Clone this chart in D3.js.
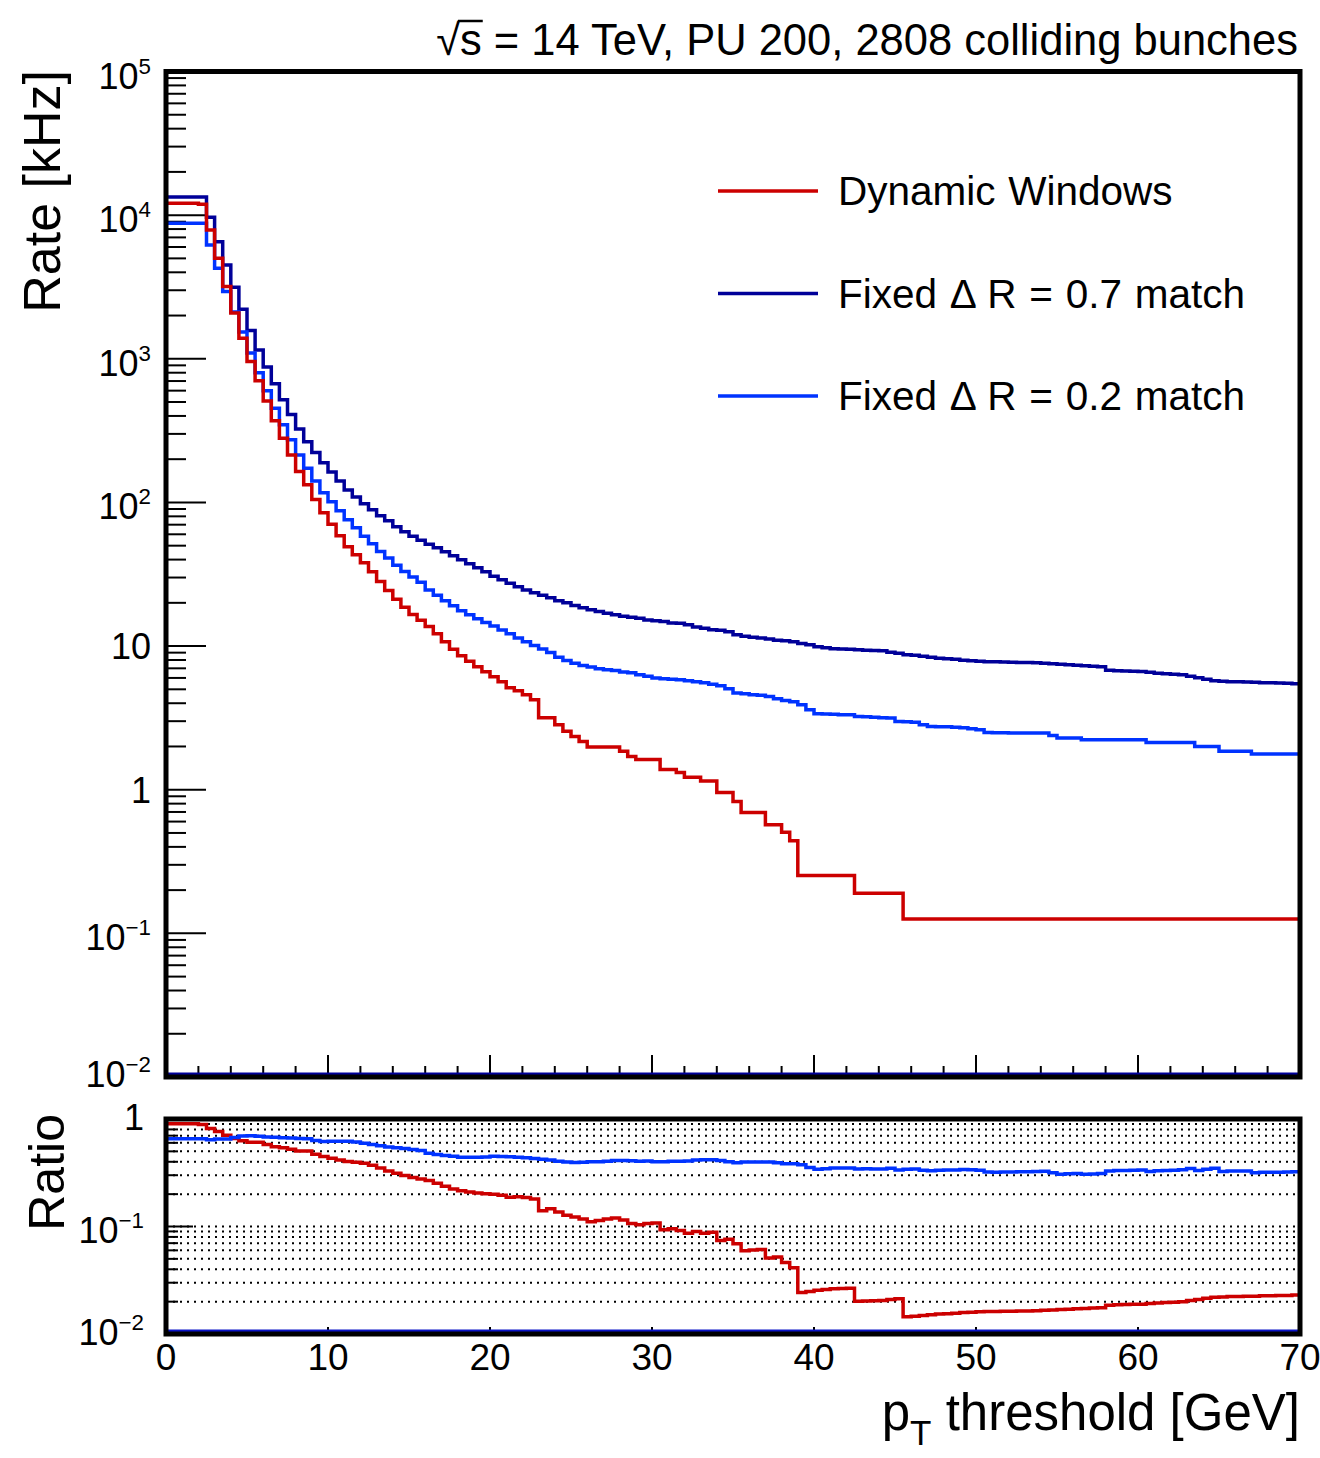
<!DOCTYPE html>
<html>
<head>
<meta charset="utf-8">
<script src="https://cdn.jsdelivr.net/npm/d3@7"></script>
<style>
  body { margin: 0; background: #fff; }
  svg { display: block; }
  text { font-family: "Liberation Sans", Arial, Helvetica, sans-serif; fill: #000; }
</style>
</head>
<body>
<svg id="chart" width="1320" height="1458"></svg>
<script>
// pT threshold bin edges [GeV], 0.5 GeV bins from 0 to 70
var ptEdges = d3.range(0, 70.001, 0.5);

// rate [kHz] per bin
var rateDynamic = [
  12100, 12100, 12100, 12100, 11900,
  7890, 5010, 3180, 2080, 1390,
  956, 702, 509, 370, 280,
  214, 164, 133, 105, 84.6,
  70.4, 58.6, 49.1, 43.2, 38.0,
  32.9, 28.2, 24.4, 21.2, 18.6,
  16.6, 15.1, 13.7, 12.2, 10.7,
  9.50, 8.56, 7.84, 7.18, 6.62,
  6.11, 5.64, 5.13, 4.89, 4.58,
  4.23, 3.17, 3.17, 2.83, 2.55,
  2.35, 2.17, 1.98, 1.98, 1.98,
  1.98, 1.85, 1.70, 1.62, 1.62,
  1.62, 1.38, 1.38, 1.32, 1.22,
  1.22, 1.15, 1.15, 0.958, 0.958,
  0.829, 0.695, 0.695, 0.695, 0.571,
  0.571, 0.505, 0.442, 0.253, 0.253,
  0.253, 0.253, 0.253, 0.253, 0.253,
  0.190, 0.190, 0.190, 0.190, 0.190,
  0.190, 0.126, 0.126, 0.126, 0.126,
  0.126, 0.126, 0.126, 0.126, 0.126,
  0.126, 0.126, 0.126, 0.126, 0.126,
  0.126, 0.126, 0.126, 0.126, 0.126,
  0.126, 0.126, 0.126, 0.126, 0.126,
  0.126, 0.126, 0.126, 0.126, 0.126,
  0.126, 0.126, 0.126, 0.126, 0.126,
  0.126, 0.126, 0.126, 0.126, 0.126,
  0.126, 0.126, 0.126, 0.126, 0.126,
  0.126, 0.126, 0.126, 0.126, 0.126
];

var rateFixed07 = [
  13400, 13400, 13400, 13400, 13400,
  9670, 6540, 4500, 3150, 2215,
  1571, 1153, 878, 669, 518,
  410, 325, 264, 223, 189,
  163, 141, 122, 109, 97.8,
  88.8, 80.7, 74.5, 67.6, 62.4,
  58.1, 54.5, 51.1, 48.3, 45.3,
  42.5, 39.9, 37.4, 35.1, 32.9,
  30.6, 28.9, 27.4, 25.9, 24.6,
  23.5, 22.6, 21.7, 20.7, 20.0,
  19.2, 18.5, 17.9, 17.4, 16.9,
  16.5, 16.1, 15.9, 15.6, 15.2,
  15.0, 14.8, 14.5, 14.4, 14.1,
  13.6, 13.3, 13.0, 12.9, 12.6,
  12.0, 11.7, 11.5, 11.4, 11.2,
  11.0, 10.9, 10.7, 10.4, 10.2,
  9.89, 9.73, 9.58, 9.53, 9.50,
  9.43, 9.35, 9.32, 9.27, 9.06,
  8.91, 8.70, 8.63, 8.49, 8.36,
  8.23, 8.16, 8.09, 7.96, 7.90,
  7.84, 7.78, 7.78, 7.74, 7.72,
  7.69, 7.68, 7.65, 7.59, 7.53,
  7.47, 7.41, 7.35, 7.29, 7.23,
  7.18, 6.79, 6.73, 6.71, 6.68,
  6.66, 6.57, 6.47, 6.42, 6.37,
  6.31, 6.16, 6.02, 5.87, 5.73,
  5.69, 5.64, 5.64, 5.62, 5.60,
  5.55, 5.55, 5.53, 5.51, 5.47
];

var rateFixed02 = [
  8790, 8790, 8790, 8790, 8790,
  6200, 4270, 2935, 2120, 1539,
  1099, 798, 598, 452, 347,
  273, 214, 173, 141, 117,
  101, 87.4, 75.7, 66.6, 58.2,
  51.5, 45.6, 41.0, 36.5, 33.1,
  30.2, 27.8, 24.6, 22.6, 20.7,
  19.1, 17.6, 16.5, 15.5, 14.6,
  13.8, 12.96, 12.2, 11.4, 10.7,
  10.1, 9.53, 9.01, 8.37, 7.95,
  7.58, 7.31, 7.15, 6.96, 6.85,
  6.77, 6.61, 6.51, 6.32, 6.17,
  6.00, 5.92, 5.87, 5.83, 5.73,
  5.64, 5.55, 5.42, 5.29, 5.05,
  4.71, 4.66, 4.58, 4.55, 4.46,
  4.30, 4.18, 4.10, 3.90, 3.60,
  3.38, 3.36, 3.35, 3.33, 3.33,
  3.24, 3.22, 3.20, 3.17, 3.16,
  2.99, 2.97, 2.95, 2.83, 2.76,
  2.74, 2.74, 2.72, 2.70, 2.66,
  2.62, 2.50, 2.49, 2.49, 2.48,
  2.48, 2.48, 2.48, 2.48, 2.38,
  2.29, 2.29, 2.29, 2.23, 2.23,
  2.23, 2.23, 2.23, 2.23, 2.23,
  2.23, 2.13, 2.13, 2.13, 2.13,
  2.13, 2.13, 2.00, 2.00, 2.00,
  1.85, 1.85, 1.85, 1.85, 1.77,
  1.77, 1.77, 1.77, 1.77, 1.77
];

var legendNames = ["Dynamic Windows", "Fixed \u0394 R = 0.7 match", "Fixed \u0394 R = 0.2 match"];
var xTickValues = [0, 10, 20, 30, 40, 50, 60, 70];
var mainExps = [-2, -1, 0, 1, 2, 3, 4, 5];
var ratioExps = [-2, -1, 0];

var colRed = "#cc0000", colNavy = "#000099", colBlue = "#0033ff";

// ratio to the fixed dR = 0.7 rate
var ratioDynamic = rateDynamic.map(function (v, i) { return v / rateFixed07[i]; });
var ratioFixed02 = rateFixed02.map(function (v, i) { return v / rateFixed07[i]; });

var svg = d3.select("#chart");
svg.append("rect").attr("width", 1320).attr("height", 1458).attr("fill", "#fff");

var x = d3.scaleLinear().domain([0, 70]).range([166, 1300]);
var y = d3.scaleLog().domain([1e-2, 1e5]).range([1077, 71.5]);
var yr = d3.scaleLog().domain([1e-2, 1]).range([1334, 1119]);

var defs = svg.append("defs");
defs.append("clipPath").attr("id", "clipMain").append("rect")
  .attr("x", x(0)).attr("y", y(1e5)).attr("width", x(70) - x(0)).attr("height", y(1e-2) - y(1e5));
defs.append("clipPath").attr("id", "clipRatio").append("rect")
  .attr("x", x(0)).attr("y", yr(1)).attr("width", x(70) - x(0)).attr("height", yr(1e-2) - yr(1));

function stepPath(vals, ys, yBottom) {
  var p = d3.path();
  p.moveTo(x(ptEdges[0]), yBottom);
  vals.forEach(function (v, i) {
    p.lineTo(x(ptEdges[i]), ys(v));
    p.lineTo(x(ptEdges[i + 1]), ys(v));
  });
  return p.toString();
}

function minorLogs(lo, hi) {
  var out = [];
  for (var e = lo; e < hi; e++)
    for (var k = 2; k <= 9; k++) out.push(k * Math.pow(10, e));
  return out;
}

function powLabel(g, exp, xr, yb, fs) {
  var t = g.append("text").attr("x", xr).attr("y", yb)
    .attr("text-anchor", "end").style("font-size", fs + "px");
  if (exp === 0) { t.text("1"); return; }
  if (exp === 1) { t.text("10"); return; }
  t.append("tspan").text("10");
  t.append("tspan").attr("dy", -15).style("font-size", (fs * 0.62) + "px")
    .text(exp < 0 ? "\u2212" + (-exp) : String(exp));
}

// ---------- main panel ----------
var main = svg.append("g");

// y ticks
main.selectAll(".ymin").data(minorLogs(-2, 5)).enter().append("line")
  .attr("x1", x(0)).attr("x2", x(0) + 20)
  .attr("y1", function (d) { return y(d); }).attr("y2", function (d) { return y(d); })
  .attr("stroke", "#000").attr("stroke-width", 2);
main.selectAll(".ymaj").data(mainExps).enter().append("line")
  .attr("x1", x(0)).attr("x2", x(0) + 40)
  .attr("y1", function (d) { return y(Math.pow(10, d)); }).attr("y2", function (d) { return y(Math.pow(10, d)); })
  .attr("stroke", "#000").attr("stroke-width", 2);

// x ticks
main.selectAll(".xmin").data(d3.range(2, 70, 2).filter(function (d) { return d % 10 !== 0; })).enter().append("line")
  .attr("x1", function (d) { return x(d); }).attr("x2", function (d) { return x(d); })
  .attr("y1", y(1e-2)).attr("y2", y(1e-2) - 11)
  .attr("stroke", "#000").attr("stroke-width", 2);
main.selectAll(".xmaj").data(xTickValues).enter().append("line")
  .attr("x1", function (d) { return x(d); }).attr("x2", function (d) { return x(d); })
  .attr("y1", y(1e-2)).attr("y2", y(1e-2) - 22)
  .attr("stroke", "#000").attr("stroke-width", 2);

var mainCurves = main.append("g").attr("clip-path", "url(#clipMain)");
[[rateFixed07, colNavy], [rateFixed02, colBlue], [rateDynamic, colRed]].forEach(function (s) {
  mainCurves.append("path").attr("d", stepPath(s[0], y, y(1e-2)))
    .attr("fill", "none").attr("stroke", s[1]).attr("stroke-width", 3.5);
});
mainCurves.append("line").attr("x1", x(0)).attr("x2", x(70))
  .attr("y1", y(1e-2) - 3).attr("y2", y(1e-2) - 3)
  .attr("stroke", colNavy).attr("stroke-width", 3);

main.append("rect").attr("x", x(0)).attr("y", y(1e5))
  .attr("width", x(70) - x(0)).attr("height", y(1e-2) - y(1e5))
  .attr("fill", "none").attr("stroke", "#000").attr("stroke-width", 5);

// y labels
mainExps.forEach(function (e) {
  var off = (e === 0 || e === 1) ? 13 : 17;
  if (e === -2) off = 10;
  powLabel(main, e, 151, y(Math.pow(10, e)) + off, 36);
});

// ---------- ratio panel ----------
var rp = svg.append("g");
var gridVals = minorLogs(-2, 0).concat([0.1]);
rp.selectAll(".grid").data(gridVals).enter().append("line")
  .attr("x1", x(0)).attr("x2", x(70))
  .attr("y1", function (d) { return yr(d); }).attr("y2", function (d) { return yr(d); })
  .attr("stroke", "#000").attr("stroke-width", 2).attr("stroke-dasharray", "2,5");
rp.selectAll(".rmin").data(minorLogs(-2, 0)).enter().append("line")
  .attr("x1", x(0)).attr("x2", x(0) + 12)
  .attr("y1", function (d) { return yr(d); }).attr("y2", function (d) { return yr(d); })
  .attr("stroke", "#000").attr("stroke-width", 2);
rp.selectAll(".rmaj").data(ratioExps).enter().append("line")
  .attr("x1", x(0)).attr("x2", x(0) + 27)
  .attr("y1", function (d) { return yr(Math.pow(10, d)); }).attr("y2", function (d) { return yr(Math.pow(10, d)); })
  .attr("stroke", "#000").attr("stroke-width", 2);
rp.selectAll(".rxmin").data(d3.range(2, 70, 2).filter(function (d) { return d % 10 !== 0; })).enter().append("line")
  .attr("x1", function (d) { return x(d); }).attr("x2", function (d) { return x(d); })
  .attr("y1", yr(1e-2)).attr("y2", yr(1e-2) - 3)
  .attr("stroke", "#000").attr("stroke-width", 2);
rp.selectAll(".rxmaj").data(xTickValues).enter().append("line")
  .attr("x1", function (d) { return x(d); }).attr("x2", function (d) { return x(d); })
  .attr("y1", yr(1e-2)).attr("y2", yr(1e-2) - 7)
  .attr("stroke", "#000").attr("stroke-width", 2);

var ratioCurves = rp.append("g").attr("clip-path", "url(#clipRatio)");
[[ratioDynamic, colRed], [ratioFixed02, colBlue]].forEach(function (s) {
  ratioCurves.append("path").attr("d", stepPath(s[0], yr, yr(1e-2)))
    .attr("fill", "none").attr("stroke", s[1]).attr("stroke-width", 3.5);
});
ratioCurves.append("line").attr("x1", x(0)).attr("x2", x(70))
  .attr("y1", yr(1e-2) - 3).attr("y2", yr(1e-2) - 3)
  .attr("stroke", "#0a14c8").attr("stroke-width", 3);

rp.append("rect").attr("x", x(0)).attr("y", yr(1))
  .attr("width", x(70) - x(0)).attr("height", yr(1e-2) - yr(1))
  .attr("fill", "none").attr("stroke", "#000").attr("stroke-width", 5);

ratioExps.forEach(function (e) {
  var off = e === -1 ? 16.5 : 11;
  powLabel(rp, e, 144, yr(Math.pow(10, e)) + off, 36);
});

// x labels
svg.selectAll(".xl").data(xTickValues).enter().append("text")
  .attr("x", function (d) { return x(d); }).attr("y", 1370)
  .attr("text-anchor", "middle").style("font-size", "37px")
  .text(function (d) { return d; });

// ---------- titles ----------
svg.append("text").attr("transform", "translate(60,70) rotate(-90)")
  .attr("text-anchor", "end").style("font-size", "52px").text("Rate [kHz]");
svg.append("text").attr("transform", "translate(64,1114) rotate(-90)")
  .attr("text-anchor", "end").style("font-size", "50px").text("Ratio");

var xt = svg.append("text").attr("x", 1300).attr("y", 1430)
  .attr("text-anchor", "end").style("font-size", "51px");
xt.append("tspan").text("p");
xt.append("tspan").attr("dy", 15).style("font-size", "35px").text("T");
xt.append("tspan").attr("dy", -15).text(" threshold [GeV]");

var titleText = svg.append("text").attr("x", 1298).attr("y", 55)
  .attr("text-anchor", "end").style("font-size", "43.5px")
  .text("\u221As = 14 TeV, PU 200, 2808 colliding bunches");
var sBox = titleText.node().getExtentOfChar(1);
var rBox = titleText.node().getExtentOfChar(0);
svg.append("line")
  .attr("x1", rBox.x + rBox.width - 2).attr("x2", sBox.x + sBox.width + 1)
  .attr("y1", rBox.y + 5).attr("y2", rBox.y + 5)
  .attr("stroke", "#000").attr("stroke-width", 2.5);

// ---------- legend ----------
var legend = svg.append("g");
[[legendNames[0], colRed], [legendNames[1], colNavy], [legendNames[2], colBlue]].forEach(function (d, i) {
  var ly = 191 + i * 102.5;
  legend.append("line").attr("x1", 718).attr("x2", 818).attr("y1", ly).attr("y2", ly)
    .attr("stroke", d[1]).attr("stroke-width", 3.5);
  legend.append("text").attr("x", 838).attr("y", ly + 14)
    .style("font-size", "40.5px").style("word-spacing", "1.5px").text(d[0]);
});
</script>
</body>
</html>
